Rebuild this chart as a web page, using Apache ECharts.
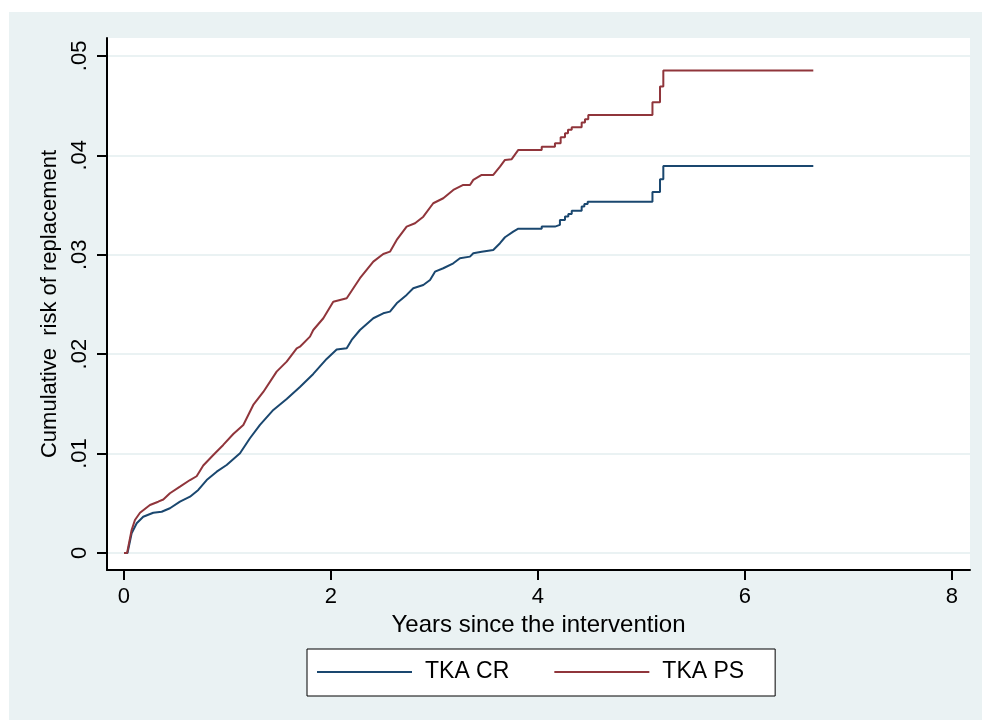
<!DOCTYPE html>
<html>
<head>
<meta charset="utf-8">
<script src="https://cdn.jsdelivr.net/npm/echarts@6/dist/echarts.min.js"></script>
<style>
  html, body { margin: 0; padding: 0; background: #ffffff; }
  #chart { position: absolute; left: 9px; top: 12px; width: 973px; height: 708px; }
</style>
</head>
<body>
<div id="chart"></div>
<script>
// Cumulative risk of replacement after knee arthroplasty, by implant design.
// Dense early part of each curve, read as a path (years, risk).
const psEarlyT = [0, 0.03, 0.074, 0.106, 0.155, 0.251, 0.331, 0.380, 0.444, 0.541, 0.638, 0.702, 0.766, 0.863, 0.959, 1.056, 1.153, 1.249, 1.346, 1.475, 1.572, 1.669, 1.700, 1.797, 1.829, 1.926, 2.022, 2.152, 2.216, 2.280, 2.409, 2.505, 2.570, 2.635, 2.731, 2.812, 2.892, 2.988, 3.085, 3.182, 3.278, 3.343, 3.375, 3.456, 3.568, 3.633, 3.681, 3.746, 3.810];
const psEarlyV = [0, 0, 0.00231, 0.00332, 0.00405, 0.00483, 0.00516, 0.00538, 0.00601, 0.00667, 0.00734, 0.00772, 0.00880, 0.00986, 0.01087, 0.01197, 0.01288, 0.01489, 0.01620, 0.01824, 0.01925, 0.02059, 0.02075, 0.02176, 0.02243, 0.02361, 0.02528, 0.02562, 0.02663, 0.02764, 0.02931, 0.03008, 0.03031, 0.03149, 0.03283, 0.03317, 0.03383, 0.03518, 0.03568, 0.03652, 0.03702, 0.03702, 0.03753, 0.03803, 0.03803, 0.03886, 0.03954, 0.03961, 0.04054];
// Later, sparse events: time of each jump and the level reached.
const psJumpT = [4.036, 4.164, 4.219, 4.261, 4.290, 4.326, 4.422, 4.454, 4.486, 5.106, 5.179, 5.211];
const psJumpV = [0.04087, 0.04122, 0.04182, 0.04222, 0.04256, 0.04283, 0.04329, 0.04363, 0.04406, 0.04534, 0.04691, 0.04852];
const psEndT = 6.66;

const crEarlyT = [0, 0.034, 0.074, 0.123, 0.186, 0.283, 0.364, 0.444, 0.541, 0.638, 0.718, 0.799, 0.896, 0.992, 1.121, 1.217, 1.314, 1.443, 1.572, 1.700, 1.829, 1.958, 2.055, 2.152, 2.200, 2.280, 2.409, 2.505, 2.570, 2.635, 2.731, 2.795, 2.892, 2.957, 3.005, 3.085, 3.182, 3.246, 3.343, 3.375, 3.456, 3.568, 3.633, 3.681, 3.761, 3.810];
const crEarlyV = [0, 0, 0.00198, 0.00299, 0.00365, 0.00405, 0.00415, 0.00450, 0.00516, 0.00566, 0.00634, 0.00734, 0.00818, 0.00885, 0.01003, 0.01154, 0.01288, 0.01439, 0.01549, 0.01670, 0.01801, 0.01952, 0.02047, 0.02059, 0.02143, 0.02243, 0.02361, 0.02411, 0.02428, 0.02512, 0.02596, 0.02663, 0.02696, 0.02746, 0.02830, 0.02864, 0.02914, 0.02965, 0.02981, 0.03015, 0.03031, 0.03048, 0.03116, 0.03176, 0.03232, 0.03262];
const crJumpT = [4.036, 4.164, 4.212, 4.261, 4.293, 4.326, 4.422, 4.448, 4.480, 5.106, 5.179, 5.211];
const crJumpV = [0.03283, 0.03300, 0.03350, 0.03384, 0.03410, 0.03443, 0.03484, 0.03511, 0.03534, 0.03632, 0.03759, 0.03893];
const crEndT = 6.66;

const seriesNames = ['TKA CR', 'TKA PS'];
const seriesColors = ['#1a476f', '#90353b'];

const xTicks = [0, 2, 4, 6, 8];
const xTickLabels = ['0', '2', '4', '6', '8'];
const yTicks = [0, 0.01, 0.02, 0.03, 0.04, 0.05];
const yTickLabels = ['0', '.01', '.02', '.03', '.04', '.05'];

// Path for the early part, then horizontal/vertical stairs for each jump.
function riskPath(earlyT, earlyV, jumpT, jumpV, endT) {
  const pts = earlyT.map((t, i) => [t, earlyV[i]]);
  let level = earlyV[earlyV.length - 1];
  jumpT.forEach((t, i) => {
    pts.push([t, level]);
    level = jumpV[i];
    pts.push([t, level]);
  });
  pts.push([endT, level]);
  return pts;
}

const font = 'Liberation Sans, Arial, sans-serif';
const chart = echarts.init(document.getElementById('chart'), null, { renderer: 'canvas' });

chart.setOption({
  backgroundColor: '#eaf2f3',
  animation: false,
  textStyle: { fontFamily: font },
  grid: {
    left: 98, right: 12, top: 26, bottom: 150,
    show: true, backgroundColor: '#ffffff', borderWidth: 0
  },
  xAxis: {
    type: 'value',
    min: -0.164, max: 8.174,
    name: 'Years since the intervention',
    nameLocation: 'middle',
    nameGap: 40,
    nameTextStyle: { color: '#000', fontSize: 24, fontFamily: font },
    axisLine: { onZero: false, lineStyle: { color: '#000', width: 2 } },
    axisTick: { customValues: xTicks, length: 10, lineStyle: { color: '#000', width: 2 } },
    axisLabel: {
      customValues: xTicks,
      formatter: v => xTickLabels[xTicks.indexOf(v)],
      color: '#000', fontSize: 22, fontFamily: font, margin: 16
    },
    splitLine: { show: false }
  },
  yAxis: {
    type: 'value',
    min: -0.00171, max: 0.0518,
    name: 'Cumulative  risk of replacement',
    nameLocation: 'middle',
    nameGap: 46,
    nameTextStyle: { color: '#000', fontSize: 22, fontFamily: font },
    axisLine: { onZero: false, lineStyle: { color: '#000', width: 2 } },
    axisTick: { customValues: yTicks, length: 10, lineStyle: { color: '#000', width: 2 } },
    axisLabel: {
      customValues: yTicks,
      rotate: 90,
      formatter: v => yTickLabels[yTicks.findIndex(t => Math.abs(t - v) < 1e-9)],
      color: '#000', fontSize: 22, fontFamily: font, margin: 16
    },
    splitLine: { show: true, lineStyle: { color: '#eaf2f3', width: 2 } }
  },
  legend: {
    left: 298, top: 637,
    orient: 'horizontal',
    backgroundColor: '#ffffff',
    borderColor: '#000', borderWidth: 1,
    padding: [10, 31, 11, 10],
    itemWidth: 95, itemHeight: 2, itemGap: 45,
    icon: 'rect',
    textStyle: { color: '#000', fontSize: 23, fontFamily: font, lineHeight: 26, padding: [0, 0, 0, 8] },
    data: seriesNames
  },
  series: [
    {
      name: seriesNames[0], type: 'line', showSymbol: false, symbol: 'none',
      color: seriesColors[0], lineStyle: { width: 2, color: seriesColors[0] },
      data: riskPath(crEarlyT, crEarlyV, crJumpT, crJumpV, crEndT)
    },
    {
      name: seriesNames[1], type: 'line', showSymbol: false, symbol: 'none',
      color: seriesColors[1], lineStyle: { width: 2, color: seriesColors[1] },
      data: riskPath(psEarlyT, psEarlyV, psJumpT, psJumpV, psEndT)
    }
  ]
});
</script>
</body>
</html>
